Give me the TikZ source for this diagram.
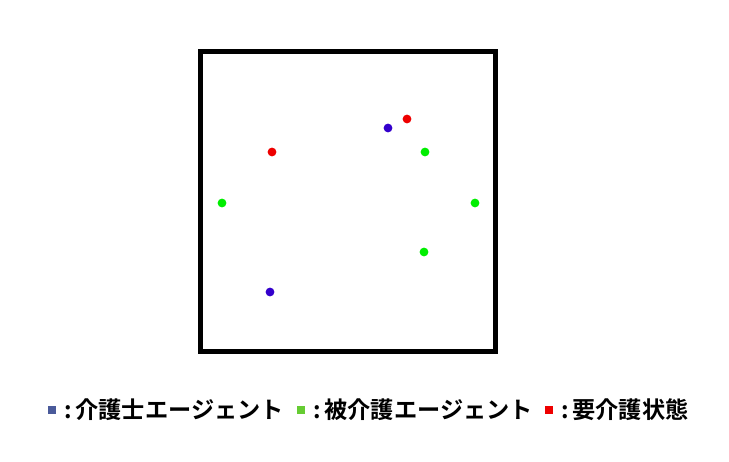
\documentclass[tikz,border=0pt]{standalone}
\usepackage{fontspec}
\newfontfamily\jpfont{Noto Sans CJK JP}[BoldFont={Noto Sans CJK JP Bold}]
\usetikzlibrary{positioning}

\definecolor{carerblue}{RGB}{51,0,204}
\definecolor{keyblue}{RGB}{74,90,154}
\definecolor{agentgreen}{RGB}{0,238,0}
\definecolor{keygreen}{RGB}{102,204,51}
\definecolor{needred}{RGB}{238,0,0}

\begin{document}
\begin{tikzpicture}[
  x=0.02cm, y=-0.02cm,
  every node/.style={inner sep=0pt},
  field/.style={draw=black, line width=2.8pt},
  agent/.style={circle, minimum size=5pt, fill=#1},
  keymark/.style={rectangle, minimum size=5pt, fill=#1},
  keytxt/.style={font=\jpfont\bfseries\fontsize{13.2}{15}\selectfont, anchor=west},
]
\useasboundingbox (0,0) rectangle (729,462);

% ----- field -----
\draw[field] (200.5,51.5) rectangle (495.5,351.5);

% ----- agents -----
\node[agent=carerblue] (C1) at (388,128) {};
\node[agent=carerblue] (C2) at (270,292) {};
\node[agent=agentgreen] (P1) at (425,152) {};
\node[agent=agentgreen] (P2) at (222,203) {};
\node[agent=agentgreen] (P3) at (475,203) {};
\node[agent=agentgreen] (P4) at (424,252) {};
\node[agent=needred] (N1) at (407,119) {};
\node[agent=needred] (N2) at (272,152) {};

% ----- legend -----
\node[keymark=keyblue] (K1) at (52,410) {};
\node[keytxt, right=4pt of K1] (T1) {:\,介護士エージェント};
\node[keymark=keygreen] (K2) at (301,410) {};
\node[keytxt, right=4pt of K2] (T2) {:\,被介護エージェント};
\node[keymark=needred] (K3) at (549,410) {};
\node[keytxt, right=4pt of K3] (T3) {:\,要介護状態};

\end{tikzpicture}
\end{document}
